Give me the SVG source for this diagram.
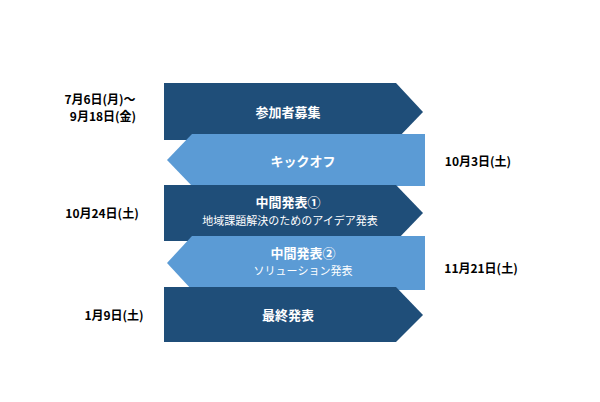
<svg xmlns="http://www.w3.org/2000/svg" width="600" height="402" viewBox="0 0 600 402">
<style>
.d{fill:#1f4e79}.l{fill:#5b9bd5}
text{font-family:"Noto Sans CJK JP","Noto Sans",sans-serif;text-anchor:middle}
.t{fill:#fff;font-size:13px;font-weight:bold}
.s{fill:#fff;font-size:11px}
.k{fill:#000;font-size:12px;font-weight:bold}
</style>
<rect width="600" height="402" fill="#fff"/>
<g id="n1"><polygon class="d" points="164,83 396,83 423,112 396,140 164,140"/><text class="t" x="288" y="117">参加者募集</text></g>
<g id="n2"><polygon class="l" points="192,134 425,134 425,186 192,186 167,160"/><text class="t" x="303" y="166">キックオフ</text></g>
<g id="n3"><polygon class="d" points="164,185 396,185 423,213 396,241 164,241"/><text class="t" x="288" y="207">中間発表①</text><text class="s" x="290" y="225">地域課題解決のためのアイデア発表</text></g>
<g id="n4"><polygon class="l" points="192,236 425,236 425,290 192,290 167,263"/><text class="t" x="303" y="258">中間発表②</text><text class="s" x="303" y="275">ソリューション発表</text></g>
<g id="n5"><polygon class="d" points="164,287 396,287 423,315 396,342 164,342"/><text class="t" x="288" y="320">最終発表</text></g>
<g id="labels">
<text class="k" x="100" y="104">7月6日(月)～</text>
<text class="k" x="103" y="121">9月18日(金)</text>
<text class="k" x="478" y="166">10月3日(土)</text>
<text class="k" x="102" y="218">10月24日(土)</text>
<text class="k" x="481" y="273">11月21日(土)</text>
<text class="k" x="114" y="320">1月9日(土)</text>
</g>
<g id="connectors"/>
</svg>
